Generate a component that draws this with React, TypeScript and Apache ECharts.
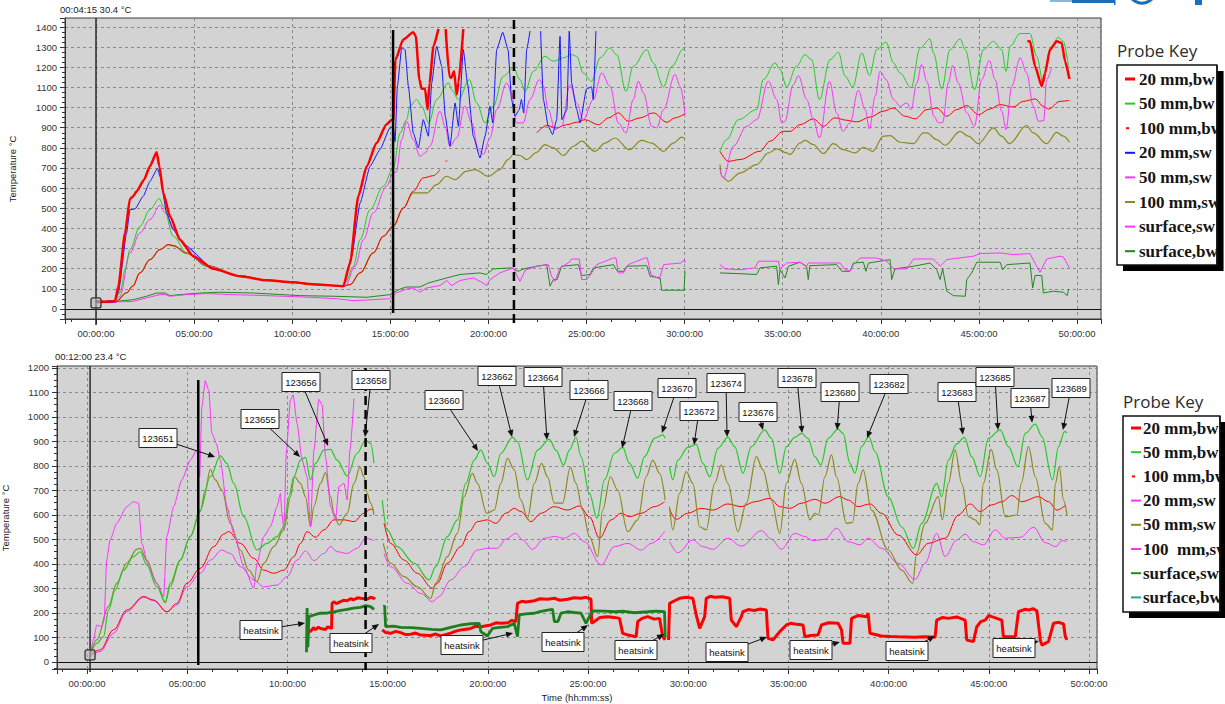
import React, { useEffect, useRef } from 'react';
import * as echarts from 'echarts';

type P = [number, number] | null;

// ---------------- TOP CHART (hours, °C) ----------------
const TOP_20BW: P[] = [[0,38],[0.5,36],[0.97,40],[1.14,113],[1.48,377],[1.73,546],[1.9,560],[2.07,584],[2.45,642],[2.75,709],[3.09,778],[3.23,709],[3.43,576],[3.77,460],[4.28,344],[4.96,262],[5.98,199],[7.34,162],[8.7,142],[10.0,132],[11.25,121],[12.6,113],[12.95,228],[13.37,560],[13.8,709],[14.3,824],[14.8,916],[15.07,940],[15.15,932],[15.26,1238],[15.66,1338],[16.17,1374],[16.3,1354],[16.48,1139],[16.6,1093],[16.77,1093],[16.9,990],[17.0,1122],[17.2,1305],[17.45,1390],null,[17.82,1390],[18.01,1156],[18.1,1147],[18.25,1180],[18.38,1065],[18.47,1122],[18.72,1390],null,[47.47,1329],[47.6,1329],[47.86,1205],[48.2,1106],[48.37,1172],[48.62,1288],[48.96,1329],[49.22,1321],[49.39,1230],[49.61,1142]];
const TOP_50BW: P[] = [[0,38],[0.9,38],[1.22,80],[1.5,200],[1.73,295],[2.24,410],[2.75,493],[3.23,548],[3.43,510],[3.94,361],[4.62,278],[5.64,212],[7.34,164],[8.7,143],[10.0,133],[11.25,122],[12.6,114],[12.7,129],[13.12,212],[13.46,344],[13.97,493],[14.64,609],[15.15,700],[15.5,874],[15.83,940],[16.0,1007],[16.34,1040],[16.6,1007],[16.96,924],[17.36,1040],[17.96,1122],[18.13,1089],[18.47,1040],[19.03,1139],[19.4,1023],[19.83,924],[20.25,1007],[20.76,1156],[21.27,1197],[21.61,1139],[21.87,1081],[22.29,1180],[22.88,1255],[23.31,1230],[23.82,1247],[24.24,1263],[24.5,1255],[24.83,1172],[25.26,1131],[25.69,1247],[26.19,1296],[26.54,1263],[27.01,1081],[27.38,1205],[28.07,1288],[28.4,1222],[28.92,1103],[29.34,1205],[29.94,1291],[30.02,1280],null,[31.8,783],[32.14,841],[32.74,940],[33.67,990],[34.01,1139],[34.61,1222],[34.86,1189],[35.2,1103],[35.7,1205],[36.14,1263],[36.47,1238],[36.87,1040],[37.41,1238],[37.84,1275],[38.18,1156],[38.57,1103],[39.03,1272],[39.42,1159],[39.79,1288],[40.27,1325],[40.64,1222],[40.98,1172],[41.54,1098],[42.0,1296],[42.51,1341],[42.68,1272],[43.1,1093],[43.53,1288],[44.04,1341],[44.3,1288],[44.77,1089],[45.23,1288],[45.74,1329],[46.16,1288],[46.38,1180],[46.59,1305],[47.1,1368],[47.6,1368],[47.94,1255],[48.28,1122],[48.62,1288],[49.05,1349],[49.3,1329],[49.56,1205]];
const TOP_100BW: P[] = [[0,38],[1.0,36],[1.56,80],[1.87,113],[2.24,179],[2.75,245],[3.26,295],[3.69,320],[3.94,315],[4.62,278],[5.64,215],[7.34,165],[8.7,143],[10.0,133],[11.25,122],[12.6,113],[12.95,121],[13.46,179],[14.13,278],[14.64,361],[15.15,411],[15.66,500],[16.17,584],[16.68,651],[17.2,662],[17.53,692],null,[17.8,733],[17.9,736],null,[22.46,874],[22.97,911],[23.48,899],[23.99,915],[24.5,927],[24.92,940],[25.61,915],[26.12,949],[26.62,974],[27.13,932],[27.73,949],[28.41,974],[29.09,927],[29.51,949],[30.02,970],null,[31.8,783],[32.23,733],[32.82,742],[33.84,783],[34.35,833],[35.03,882],[35.37,882],[35.88,915],[36.56,944],[37.07,907],[37.66,949],[38.26,937],[38.77,929],[39.45,953],[40.13,982],[40.64,998],[41.24,957],[41.75,944],[42.34,990],[42.85,998],[43.36,957],[43.87,990],[44.38,1010],[44.97,965],[45.56,993],[46.07,1015],[46.75,1003],[47.26,1031],[47.86,1043],[48.28,1007],[48.54,993],[49.13,1031],[49.61,1036]];
const TOP_20SW: P[] = [[0,32],[0.9,34],[1.14,80],[1.56,377],[1.73,493],[1.99,497],[2.41,560],[2.75,634],[3.13,697],[3.26,659],[3.6,477],[3.94,394],[4.5,320],[5.98,199],[7.34,162],[8.7,142],[10.0,132],[11.25,121],[12.6,113],[13.03,262],[13.46,526],[13.97,709],[14.47,791],[14.98,899],[15.15,907],[15.24,831],[15.36,1106],[15.58,1296],[15.75,1288],[15.92,1106],[16.17,874],[16.43,800],[16.68,940],[16.94,858],[17.11,1122],[17.36,1305],[17.62,1205],[17.8,957],[18.04,808],[18.3,1023],[18.47,907],[18.72,1288],[18.93,1122],[19.23,858],[19.57,750],[19.83,858],[20.08,1007],[20.22,924],[20.42,1288],[20.73,1374],[21.0,1288],[21.18,1040],[21.35,957],[21.57,990],[21.68,1040],[21.8,973],[21.95,1288],[22.12,1380],null,[22.66,1380],[22.8,1040],[23.05,907],[23.27,866],[23.48,940],[23.65,1354],[23.74,940],[24.0,990],[24.12,1380],[24.24,1122],[24.5,990],[24.67,924],[25.0,1093],[25.26,1103],[25.34,1040],[25.48,1380]];
const TOP_50SW: P[] = [[0,30],[0.9,32],[1.22,63],[1.73,278],[2.24,377],[2.75,444],[3.26,515],[3.52,477],[3.94,394],[4.62,303],[5.64,214],[7.34,163],[8.7,142],[10.0,132],[11.25,121],[12.6,113],[12.7,113],[13.2,212],[13.63,344],[14.13,477],[14.81,609],[15.15,675],[15.3,680],[15.58,841],[15.83,932],[16.17,841],[16.51,758],[16.77,775],[17.02,808],[17.53,982],[17.79,907],[18.04,808],[18.38,849],[18.8,1007],[19.15,924],[19.49,791],[19.74,767],[20.08,849],[20.42,990],[20.93,1122],[21.18,1073],[21.43,924],[21.77,924],[22.12,1040],[22.59,1139],[22.8,1106],[23.05,990],[23.39,891],[23.73,907],[24.16,1114],[24.5,1023],[24.83,940],[25.35,1040],[25.77,1172],[26.2,1106],[26.62,924],[27.01,874],[27.38,1040],[27.64,1131],[27.9,1073],[28.32,907],[28.58,899],[28.92,990],[29.51,1164],[29.77,1106],[30.02,965],null,[31.8,692],[31.97,651],[32.48,808],[33.16,907],[33.67,940],[34.27,1131],[34.69,1040],[34.95,924],[35.1,930],[35.54,1114],[35.8,1159],[36.22,1040],[36.56,940],[36.87,849],[37.38,1131],[37.75,974],[38.06,882],[38.43,924],[38.85,1086],[39.2,990],[39.42,894],[39.71,1056],[39.96,1180],[40.27,1139],[40.64,1040],[40.98,1007],[41.32,1023],[41.54,990],[41.83,1122],[42.08,1214],[42.34,1131],[42.71,957],[42.93,924],[43.15,926],[43.44,1122],[43.66,1209],[43.95,1122],[44.38,974],[44.77,907],[45.14,1139],[45.53,1233],[45.82,1139],[46.16,982],[46.38,891],[46.67,1106],[47.1,1247],[47.43,1172],[47.77,1007],[48.03,932],[48.3,935],[48.45,1139],[48.7,1197]];
const TOP_100SW: P[] = [[0,36],[1.0,34],[1.56,80],[1.87,113],[2.24,179],[2.75,245],[3.26,295],[3.69,318],[3.94,313],[4.62,276],[5.64,214],[7.34,164],[8.7,143],[10.0,133],[11.25,122],[12.6,113],[12.95,121],[13.46,179],[14.13,278],[14.64,361],[15.15,411],[15.66,502],[16.17,576],[16.85,576],[17.36,617],[17.87,659],[18.3,642],[18.89,684],[19.32,692],[20.0,659],[20.59,692],[21.0,742],[21.27,767],[21.61,762],[21.95,742],[22.46,778],[22.88,816],[23.31,800],[23.82,762],[24.33,808],[24.75,833],[25.43,783],[25.94,824],[26.45,849],[27.18,791],[27.81,837],[28.32,824],[28.92,783],[29.43,824],[29.85,853],[30.02,845],null,[31.8,717],[31.89,659],[32.23,634],[32.82,675],[33.67,717],[34.27,775],[34.69,795],[35.2,775],[35.37,767],[35.88,824],[36.14,837],[36.56,816],[37.07,772],[37.58,821],[38.09,791],[38.68,775],[39.11,803],[39.58,783],[40.13,858],[40.47,861],[40.98,828],[41.66,821],[42.17,874],[42.34,874],[42.85,841],[43.27,813],[44.04,882],[44.46,858],[44.97,821],[45.74,899],[46.16,858],[46.55,821],[47.43,911],[47.77,874],[48.45,821],[48.96,877],[49.3,858],[49.61,828]];
const TOP_SURF_SW: P[] = [[0,30],[1.9,38],[2.58,55],[3.26,71],[3.52,71],[3.77,63],[4.62,71],[5.64,76],[7.0,71],[8.7,66],[10.4,60],[12.27,51],[13.12,41],[14.13,46],[14.98,51],[15.32,80],[15.83,99],[16.17,104],[16.51,83],[16.85,104],[17.53,116],[17.87,141],[18.13,116],[18.55,141],[19.23,154],[19.66,132],[19.91,116],[20.08,146],[20.59,179],[21.27,204],[21.43,171],[21.61,137],[21.87,192],[22.46,212],[23.05,220],[23.22,162],[23.39,137],[23.65,204],[24.07,228],[24.24,248],[24.63,248],[24.75,146],[25.01,146],[25.26,179],[25.52,220],[26.37,253],[26.5,253],[26.62,179],[26.88,179],[27.13,220],[27.98,253],[28.1,253],[28.28,171],[28.71,149],[28.93,220],[29.8,228],[30.0,245],[30.02,228],null,[31.8,220],[32.06,199],[32.82,195],[33.58,204],[33.76,237],[34.78,237],[34.86,199],[35.2,228],[35.88,232],[36.22,212],[36.3,228],[37.92,228],[38.18,195],[38.43,187],[38.6,220],[38.94,253],[39.79,253],[40.3,237],[40.64,199],[41.32,199],[41.66,248],[42.68,248],[43.02,212],[43.36,245],[44.72,262],[45.06,275],[46.08,278],[46.75,270],[47.6,275],[47.94,212],[48.11,182],[48.45,248],[49.13,262],[49.3,258],[49.61,204]];
const TOP_SURF_BW: P[] = [[0,38],[1.0,38],[1.9,46],[2.58,63],[3.09,79],[3.52,79],[3.77,66],[4.28,71],[5.3,79],[6.32,83],[8.02,79],[10.4,66],[12.1,63],[13.8,58],[14.98,71],[15.5,99],[15.83,109],[16.51,109],[16.94,129],[17.87,154],[18.55,171],[19.57,179],[19.9,171],[20.25,199],[21.18,204],[21.52,187],[21.8,199],[22.46,212],[22.97,220],[23.14,113],[23.31,146],[23.5,146],[23.73,212],[24.58,220],[24.75,166],[25.18,171],[25.35,204],[26.37,220],[26.57,187],[26.9,187],[27.05,212],[28.07,215],[28.24,162],[28.75,154],[28.83,93],[29.97,93],[30.02,187],null,[31.8,179],[32.82,175],[33.67,171],[33.84,204],[34.69,212],[34.78,121],[34.86,195],[35.12,154],[35.29,212],[35.88,232],[36.22,209],[36.3,146],[36.38,215],[37.75,220],[38.01,187],[38.43,187],[38.6,228],[39.11,232],[39.24,187],[39.37,228],[40.47,245],[40.55,146],[40.72,199],[41.66,212],[42.51,228],[42.85,195],[43.02,146],[43.15,200],[43.36,88],[43.7,66],[44.3,63],[44.38,146],[44.63,179],[44.89,232],[46.08,232],[46.21,195],[46.42,220],[47.6,228],[47.74,104],[47.86,166],[48.2,166],[48.28,79],[48.79,88],[49.3,83],[49.5,66],[49.57,99]];

// ---------------- BOTTOM CHART ----------------
const B_50BW: P[] = [[0.15,22],[0.48,76],[0.82,103],[1.07,212],[1.4,294],[1.82,375],[2.32,430],[2.65,450],[2.98,396],[3.48,307],[3.9,246],[4.15,321],[4.65,416],[5.15,512],[5.65,620],[6.15,756],[6.65,841],[6.98,811],[7.32,729],[7.82,593],[8.48,457],[8.98,484],[9.48,512],[9.82,552],[10.07,675],[10.32,756],[10.65,824],[10.9,835],[11.15,743],[11.4,811],[11.82,865],[12.15,868],[12.48,824],[12.98,759],[13.48,852],[13.9,906],[14.15,892],[14.32,811],null,[14.73,661],[14.98,539],[15.48,471],[16.32,403],[17.07,335],[17.4,389],[17.98,512],[18.48,580],[18.9,729],[19.32,824],[19.65,865],[19.98,811],[20.32,756],[20.65,852],[21.23,917],[21.48,899],[21.98,743],[22.48,865],[23.07,909],[23.4,865],[23.78,804],[24.07,865],[24.4,917],[24.65,838],[25.07,688],[25.45,586],[25.82,743],[26.32,852],[26.73,876],[27.07,811],[27.48,750],[27.82,838],[28.32,913],[28.73,927],[28.85,913],null,[29.07,797],[29.23,743],[29.48,824],[29.98,876],[30.4,888],[30.73,811],[31.07,756],[31.48,872],[31.98,917],[32.32,879],[32.73,770],[33.15,879],[33.82,947],[34.15,913],[34.57,770],[34.9,879],[35.32,917],[35.65,933],[35.98,913],[36.32,838],[36.62,804],[36.98,913],[37.48,950],[37.73,933],[38.07,811],[38.32,770],[38.65,879],[39.02,920],[39.32,858],[39.98,675],[40.65,552],[41.23,464],[41.65,566],[42.4,729],[42.65,675],[42.98,824],[43.4,890],[43.78,917],[44.15,838],[44.57,756],[44.98,913],[45.57,947],[45.98,879],[46.45,797],[46.82,933],[47.32,971],[47.65,920],[48.18,743],[48.48,879],[48.78,940],[48.9,935]];
const B_50SW: P[] = [[0.15,22],[0.48,90],[1.07,226],[1.48,321],[1.98,403],[2.48,460],[2.65,464],[2.98,416],[3.48,321],[3.9,242],[4.15,307],[4.65,416],[5.15,512],[5.65,614],[5.9,702],[6.15,786],[6.4,743],[6.73,702],[7.15,566],[7.65,457],[8.07,375],[8.48,328],[8.82,403],[9.32,471],[9.82,539],[10.15,675],[10.35,756],[10.65,729],[10.9,675],[11.15,552],[11.32,634],[11.65,729],[11.9,773],[12.15,675],[12.32,607],[12.57,559],[12.98,607],[13.32,729],[13.62,795],[13.82,756],[13.98,688],[14.15,648],[14.32,600],null,[14.78,484],[15.15,403],[15.82,348],[16.48,307],[17.15,260],[17.4,321],[17.98,430],[18.48,525],[18.82,675],[19.23,770],[19.48,729],[19.95,607],[20.32,620],[20.65,729],[20.98,831],[21.32,784],[21.65,661],[21.98,586],[22.32,729],[22.68,811],[22.98,756],[23.32,648],[23.73,648],[24.12,795],[24.4,729],[24.73,620],[25.07,512],[25.48,430],[25.73,620],[26.12,756],[26.48,702],[26.98,532],[27.48,580],[27.9,756],[28.23,824],[28.57,770],[28.85,661],null,[29.07,634],[29.23,539],[29.57,688],[29.9,777],[30.23,729],[30.57,552],[30.9,539],[31.32,729],[31.65,804],[31.98,729],[32.48,532],[32.9,648],[33.4,838],[33.73,784],[34.15,661],[34.57,525],[34.9,729],[35.32,827],[35.65,729],[36.07,580],[36.32,607],[36.5,600],[36.82,756],[37.15,845],[37.4,756],[37.9,566],[38.2,570],[38.48,729],[38.73,784],[39.15,620],[39.98,457],[40.65,375],[41.2,321],[41.4,444],[41.82,566],[42.48,675],[42.68,580],[42.98,729],[43.32,865],[43.65,729],[43.98,593],[44.32,580],[44.55,560],[44.73,729],[45.12,868],[45.4,784],[45.82,593],[46.4,600],[46.62,729],[46.98,879],[47.32,756],[47.82,566],[48.18,539],[48.32,729],[48.52,797],[48.73,661],[48.9,600]];
const B_100BW: P[] = [[0.15,29],[0.65,49],[1.32,131],[1.98,212],[2.82,267],[3.32,253],[3.98,205],[4.48,239],[4.98,321],[5.65,382],[6.32,471],[6.82,522],[7.07,532],[7.65,484],[8.32,423],[8.82,375],[9.32,362],[9.82,375],[10.32,430],[10.65,484],[10.98,532],[11.4,509],[11.82,539],[12.32,580],[12.82,580],[13.32,573],[13.82,607],[14.15,624],[14.32,620],null,[14.82,566],[15.15,484],[15.82,416],[16.48,362],[17.23,301],[17.48,321],[17.98,403],[18.65,471],[19.07,532],[19.48,573],[19.98,580],[20.4,566],[20.9,607],[21.32,627],[21.65,614],[22.15,573],[22.65,607],[23.32,634],[23.98,620],[24.57,637],[25.07,593],[25.57,505],[26.15,580],[26.65,607],[27.07,593],[27.65,607],[28.32,634],[28.82,654],null,[29.07,623],[29.4,582],[29.98,607],[30.65,627],[31.23,620],[31.98,645],[32.65,634],[33.32,654],[34.07,668],[34.57,634],[35.07,627],[35.65,648],[36.32,664],[36.82,648],[37.57,675],[37.98,661],[38.48,634],[39.07,645],[39.65,607],[40.48,518],[41.4,437],[41.98,484],[42.82,505],[43.48,600],[44.07,645],[44.57,614],[45.15,641],[45.65,654],[46.15,679],[46.65,654],[47.48,675],[47.98,654],[48.4,620],[48.85,641]];
const B_100SW: P[] = [[0.15,24],[0.65,42],[1.32,117],[1.98,205],[2.82,264],[3.32,250],[3.98,205],[4.48,232],[4.98,307],[5.65,362],[6.15,416],[6.73,457],[7.15,443],[7.65,389],[8.32,335],[8.82,307],[9.48,314],[9.98,348],[10.48,416],[10.9,453],[11.32,414],[11.82,443],[12.15,471],[12.48,450],[12.98,443],[13.48,464],[13.9,505],[14.32,495],null,[14.82,443],[15.15,389],[15.98,321],[16.65,280],[17.23,246],[17.57,267],[18.15,335],[18.82,389],[19.48,457],[19.98,464],[20.48,464],[20.9,501],[21.4,525],[21.73,498],[22.23,460],[22.82,505],[23.32,512],[23.82,505],[24.32,525],[24.82,491],[25.65,396],[26.32,471],[26.98,484],[27.65,457],[28.15,484],[28.82,532],null,[29.07,491],[29.48,446],[30.23,498],[30.73,471],[31.23,460],[31.98,505],[32.65,473],[33.65,536],[34.15,501],[34.65,460],[35.32,525],[35.82,512],[36.23,495],[36.82,501],[37.4,546],[37.98,491],[38.57,478],[38.98,505],[39.65,464],[40.48,403],[41.32,337],[41.82,403],[42.4,525],[42.82,430],[43.4,498],[43.82,522],[44.23,491],[44.73,478],[45.32,539],[45.82,505],[46.57,509],[47.23,550],[47.82,487],[48.35,471],[48.65,495],[48.9,493]];
const B_20SW: P[] = [[0.15,22],[0.32,90],[0.48,151],[0.73,144],[0.85,170],[0.98,416],[1.15,498],[1.48,566],[1.98,634],[2.32,654],[2.57,648],[2.73,484],[3.07,389],[3.48,321],[3.82,267],[3.98,512],[4.32,634],[4.73,743],[5.15,824],[5.48,865],[5.62,756],[5.73,1042],[5.9,1148],[6.07,1110],[6.23,933],[6.45,892],[6.65,824],[6.98,634],[7.32,525],[7.82,389],[8.32,301],[8.48,403],[8.82,512],[9.15,552],[9.48,634],[9.65,688],[9.72,610],[9.82,539],[9.95,865],[10.15,1069],[10.28,1090],[10.48,974],[10.73,824],[10.98,756],[11.15,552],[11.32,865],[11.57,1072],[11.73,1049],[11.9,838],[12.15,634],[12.4,580],[12.57,716],[12.82,729],[12.98,661],[13.12,865],[13.32,1076]];
const B_HS_RED: P[] = [[10.98,90],[11.05,130],[11.15,124],[11.3,140],[11.4,132],[11.55,142],[11.65,137],[11.9,133],[12.0,143],[12.15,140],[12.2,135],[12.23,239],[12.32,246],[12.45,238],[12.6,244],[12.8,252],[12.98,250],[13.15,258],[13.3,254],[13.5,262],[13.65,260],[14.0,257],[14.15,264],[14.32,260],[14.35,255],null,[14.73,131],[14.9,120],[15.15,117],[15.4,125],[15.65,120],[15.9,112],[16.15,113],[16.4,118],[16.65,110],[17.15,108],[17.4,114],[17.65,106],[18.15,118],[18.4,126],[18.65,131],[19.15,137],[19.4,146],[19.65,144],[20.15,151],[20.4,160],[20.65,158],[21.0,160],[21.2,170],[21.4,165],[21.48,239],[21.7,248],[21.9,245],[22.32,250],[22.6,258],[22.98,256],[23.32,260],[23.6,252],[23.98,256],[24.3,262],[24.65,260],[24.9,264],[25.15,256],[25.18,158],[25.32,165],[25.6,182],[25.98,185],[26.3,182],[26.57,178],[26.73,117],[27.0,110],[27.4,103],[27.48,165],[27.7,178],[27.98,185],[28.3,175],[28.57,178],[28.73,103],[28.85,90],null,[29.02,90],[29.07,239],[29.32,250],[29.57,260],[29.9,264],[30.23,260],[30.4,192],[30.57,137],[30.82,185],[30.9,260],[31.1,268],[31.32,264],[31.7,266],[32.07,260],[32.15,171],[32.4,144],[32.65,185],[32.73,205],[33.0,214],[33.3,210],[33.6,216],[33.9,212],[33.98,97],[34.23,90],[34.57,124],[34.9,151],[35.1,158],[35.32,155],[35.73,151],[35.82,103],[36.1,108],[36.48,110],[36.65,151],[37.0,160],[37.48,158],[37.65,131],[37.73,76],[38.07,76],[38.15,178],[38.5,190],[38.9,185],[38.98,199],[39.07,117],[39.65,106],[40.1,104],[40.48,103],[41.32,101],[41.8,103],[42.32,101],[42.4,171],[42.7,182],[42.98,178],[43.4,184],[43.82,171],[43.9,90],[44.23,83],[44.4,144],[44.6,165],[44.82,171],[45.0,190],[45.15,185],[45.4,178],[45.65,171],[45.73,103],[46.32,103],[46.48,205],[46.8,215],[47.0,212],[47.2,218],[47.4,209],[47.57,90],[47.65,69],[47.98,83],[48.23,158],[48.5,162],[48.73,155],[48.82,103],[48.9,90]];
const B_HS_GREEN: P[] = [[10.95,40],[10.98,220],[11.02,60],[11.07,185],[11.4,194],[11.65,199],[12.0,200],[12.32,205],[12.6,210],[12.98,215],[13.3,220],[13.65,223],[13.9,230],[14.15,226],[14.32,215],null,[14.8,226],[14.85,230],[14.9,144],[15.3,146],[15.65,141],[16.2,140],[16.65,137],[17.2,133],[17.65,131],[18.2,142],[18.65,151],[19.1,156],[19.57,158],[19.65,124],[19.98,106],[20.23,137],[20.6,141],[20.98,144],[21.32,158],[21.48,103],[21.57,192],[21.9,196],[22.32,199],[22.6,206],[22.98,212],[23.23,215],[23.32,165],[23.5,165],[23.65,199],[23.98,205],[24.3,202],[24.65,199],[24.9,158],[25.07,185],[25.23,209],[25.8,208],[26.32,205],[26.8,207],[27.32,201],[27.98,205],[28.4,208],[28.82,205],[28.85,100]];

// ---------------- legends / annotations ----------------
const TOP_LEGEND = ['20 mm,bw', '50 mm,bw', '100 mm,bw', '20 mm,sw', '50 mm,sw', '100 mm,sw', 'surface,sw', 'surface,bw'];
const BOT_LEGEND = ['20 mm,bw', '50 mm,bw', '100 mm,bw', '20 mm,sw', '50 mm,sw', '100  mm,sw', 'surface,sw', 'surface,bw'];
const ANNOT_LABELS = ['123651','123655','123656','123658','123660','123662','123664','123666','123668','123670','123672','123674','123676','123678','123680','123682','123683','123685','123687','123689','heatsink','heatsink','heatsink','heatsink','heatsink','heatsink','heatsink','heatsink','heatsink'];
const ANNOT_T = [6.39,10.63,12.03,13.87,19.51,21.21,22.95,24.3,26.7,28.69,30.29,31.94,33.73,35.68,37.43,38.92,43.71,45.46,47.16,48.7,10.88,14.57,21.26,25.0,28.79,33.93,37.57,42.31,47.5];
const ANNOT_V = [837,837,882,918,861,918,906,918,873,935,886,918,947,935,947,914,927,947,976,947,159,155,118,151,114,102,82,106,86];
// layout (box centres, pixels)
const ANNOT_BOX = [[158,438],[260,419],[301,382],[371,380],[444,400],[497,376],[543,377],[589,390],[633,401],[677,388],[699,411],[726,383],[758,412],[797,378],[840,392],[889,384],[957,392],[995,377],[1030,398],[1071,388],[261,630],[351,643],[462,645],[563,642],[636,650],[727,652],[811,650],[907,651],[1014,648]];

const RED = '#ff0000', GREEN = '#22cc22', BLUE = '#1515ff', MAG = '#ff33ff', OLIVE = '#8c8a1e', DKGREEN = '#1f8a1f', TEAL = '#2a9d9d';
const TOP_COLORS = [RED, GREEN, RED, BLUE, MAG, OLIVE, MAG, DKGREEN];
const BOT_COLORS = [RED, GREEN, RED, MAG, OLIVE, MAG, DKGREEN, TEAL];

const FONT = 'Liberation Sans';
const fmtH = (v: number) => { const h = Math.round(v); return (h < 10 ? '0' : '') + h + ':00:00'; };
const fmtV = (v: number) => String(Math.round(v));
const toData = (a: P[]) => a.map((p) => (p ? p : ['-', '-']));

function line(name: string, data: P[], color: string, width: number, g: number, smooth: number, extra: any = {}) {
  return {
    type: 'line', name, data: toData(data), xAxisIndex: g, yAxisIndex: g,
    showSymbol: false, symbol: 'none', smooth, smoothMonotone: 'x', connectNulls: false,
    lineStyle: { color, width }, itemStyle: { color }, z: 3, ...extra,
  };
}

const zeroLine = { markLine: { silent: true, symbol: ['none', 'none'], label: { show: false }, lineStyle: { color: '#111', width: 1, type: 'solid' }, data: [{ yAxis: 0 }] } };

function xAxis(g: number, min: number, max: number) {
  return {
    type: 'value', gridIndex: g, min, max, splitNumber: 10,
    axisLine: { show: true, onZero: false, lineStyle: { color: '#333', width: 1 } },
    axisTick: { show: true, length: 5, lineStyle: { color: '#333' } },
    minorTick: { show: true, splitNumber: 4, length: 3, lineStyle: { color: '#333' } },
    axisLabel: { formatter: fmtH, showMinLabel: false, showMaxLabel: false, color: '#333', fontSize: 9.5, fontFamily: FONT, margin: 9 },
    splitLine: { show: true, lineStyle: { color: '#8a8a8a', type: [3, 3], width: 1 } },
  };
}
function yAxis(g: number, min: number, max: number, split: number) {
  return {
    type: 'value', gridIndex: g, min, max, splitNumber: split,
    axisLine: { show: true, onZero: false, lineStyle: { color: '#333', width: 1 } },
    axisTick: { show: true, length: 5, lineStyle: { color: '#333' } },
    minorTick: { show: true, splitNumber: 4, length: 3, lineStyle: { color: '#333' } },
    axisLabel: { formatter: fmtV, showMinLabel: false, showMaxLabel: false, color: '#333', fontSize: 9.5, fontFamily: FONT, margin: 8 },
    splitLine: { show: true, lineStyle: { color: '#8a8a8a', type: [3, 3], width: 1 } },
  };
}

function buildOption(): any {
  return {
    animation: false,
    backgroundColor: '#ffffff',
    textStyle: { fontFamily: FONT },
    grid: [
      { left: 65, top: 18, width: 1036, height: 301, show: true, backgroundColor: '#d3d3d3', borderColor: '#3a3a3a', borderWidth: 1, containLabel: false, outerBoundsMode: 'none' },
      { left: 57, top: 366, width: 1040, height: 303, show: true, backgroundColor: '#d3d3d3', borderColor: '#3a3a3a', borderWidth: 1, containLabel: false, outerBoundsMode: 'none' },
    ],
    xAxis: [xAxis(0, -1.58, 51.22), xAxis(1, -1.5, 50.4)],
    yAxis: [yAxis(0, -50, 1445, 15), yAxis(1, -28.6, 1208, 12)],
    series: [
      line('surface,bw', TOP_SURF_BW, DKGREEN, 1, 0, 0, zeroLine),
      line('surface,sw', TOP_SURF_SW, MAG, 1, 0, 0),
      line('100 mm,sw', TOP_100SW, OLIVE, 1.2, 0, 0.35),
      line('100 mm,bw', TOP_100BW, RED, 1, 0, 0.35),
      line('50 mm,sw', TOP_50SW, MAG, 1, 0, 0.35),
      line('50 mm,bw', TOP_50BW, GREEN, 1, 0, 0.35),
      line('20 mm,sw', TOP_20SW, BLUE, 1, 0, 0.15),
      line('20 mm,bw', TOP_20BW, RED, 2.5, 0, 0.2),
      line('b 100 mm,sw', B_100SW, MAG, 1, 1, 0.35, zeroLine),
      line('b 100 mm,bw', B_100BW, RED, 1, 1, 0.35),
      line('b 50 mm,sw', B_50SW, OLIVE, 1.2, 1, 0.35),
      line('b 20 mm,sw', B_20SW, MAG, 1, 1, 0.2),
      line('b 50 mm,bw', B_50BW, GREEN, 1.2, 1, 0.35),
      line('b 20 mm,bw', B_HS_RED, RED, 3, 1, 0),
      line('b surface,sw', B_HS_GREEN, '#1e7d1e', 2.8, 1, 0),
    ],
  };
}

function txt(x: number, y: number, text: string, o: any = {}) {
  const align = o.align || 'left';
  const va = o.va || 'middle';
  return {
    type: 'text', x, y, rotation: o.rotation || 0, z: 200,
    style: {
      text, fill: o.color || '#222', fontSize: o.size || 10, fontFamily: o.family || FONT, fontWeight: o.weight || 'normal',
      align, verticalAlign: va, textAlign: align, textVerticalAlign: va,
    },
  };
}

function buildGraphics(chart: any) {
  const px = (g: number, t: number, v: number) => chart.convertToPixel({ gridIndex: g }, [t, v]) as number[];
  const els: any[] = [];
  const L = (x1: number, y1: number, x2: number, y2: number, w: number, color = '#000', dash?: number[]) =>
    els.push({ type: 'line', z: 150, shape: { x1, y1, x2, y2 }, style: { stroke: color, lineWidth: w, lineDash: dash } });

  // header texts
  els.push(txt(60, 9, '00:04:15 30.4 °C', { size: 9.5 }));
  els.push(txt(55, 356, '00:12:00 23.4 °C', { size: 9.5 }));
  els.push(txt(12, 169, 'Temperature °C', { align: 'center', rotation: Math.PI / 2, size: 9.5 }));
  els.push(txt(5, 518, 'Temperature °C', { align: 'center', rotation: Math.PI / 2, size: 9.5 }));
  els.push(txt(577, 697, 'Time (hh:mm:ss)', { align: 'center', size: 9.5 }));

  // top vertical markers
  const c0 = px(0, 0, 0);
  L(c0[0], 18, c0[0], 325, 1.5, '#2a2a2a');
  const s1a = px(0, 15.14, 1385), s1b = px(0, 15.14, -20);
  L(s1a[0], s1a[1], s1b[0], s1b[1], 2.5);
  const d1 = px(0, 21.3, 0);
  L(d1[0], 20, d1[0], 325, 2.5, '#000', [9, 5]);
  // bottom vertical markers
  const c1 = px(1, 0.15, 0);
  L(c1[0], 366, c1[0], 672, 1.5, '#2a2a2a');
  const s2a = px(1, 5.55, 1151), s2b = px(1, 5.55, -12);
  L(s2a[0], s2a[1], s2b[0], s2b[1], 2.5);
  const d2 = px(1, 13.9, 0);
  L(d2[0], 368, d2[0], 670, 2.5, '#000', [9, 5]);

  // cursor squares
  const q0 = px(0, 0, 30), q1 = px(1, 0.15, 29);
  [q0, q1].forEach((q) => els.push({ type: 'rect', z: 160, shape: { x: q[0] - 5, y: q[1] - 5, width: 10, height: 10, r: 2 }, style: { fill: 'rgba(190,190,190,0.6)', stroke: '#333', lineWidth: 1.3 } }));

  // annotations
  ANNOT_LABELS.forEach((lab, i) => {
    const [cx, cy] = ANNOT_BOX[i];
    const w = lab === 'heatsink' ? 42 : 38, h = 19;
    const [tx, ty] = px(1, ANNOT_T[i], ANNOT_V[i]);
    const dx = tx - cx, dy = ty - cy;
    const sc = Math.min((w / 2) / Math.max(Math.abs(dx), 1e-6), (h / 2) / Math.max(Math.abs(dy), 1e-6));
    const sx = cx + dx * sc, sy = cy + dy * sc;
    const len = Math.hypot(tx - sx, ty - sy) || 1;
    const ux = (tx - sx) / len, uy = (ty - sy) / len;
    L(sx, sy, tx - ux * 4, ty - uy * 4, 1, '#111');
    els.push({ type: 'polygon', z: 151, shape: { points: [[tx, ty], [tx - ux * 7 - uy * 3, ty - uy * 7 + ux * 3], [tx - ux * 7 + uy * 3, ty - uy * 7 - ux * 3]] }, style: { fill: '#111' } });
    els.push({ type: 'rect', z: 170, shape: { x: cx - w / 2, y: cy - h / 2, width: w, height: h }, style: { fill: '#fff', stroke: '#222', lineWidth: 1 } });
    els.push({ ...txt(cx, cy + 0.5, lab, { align: 'center', size: 9.5, color: '#111' }), z: 171 });
  });

  // legends
  const legend = (items: string[], colors: string[], x: number, y: number, w: number, h: number, titleY: number, rowY0: number, rowH: number, textX: number) => {
    els.push(txt(x, titleY, 'Probe Key', { size: 17, family: 'Open Sans', color: '#2b2b2b' }));
    els.push({ type: 'rect', z: 180, shape: { x: x + 6, y: y + 6, width: w, height: h }, style: { fill: '#000' } });
    els.push({ type: 'rect', z: 181, shape: { x, y, width: w, height: h }, style: { fill: '#fff', stroke: '#111', lineWidth: 1.5 } });
    items.forEach((it, i) => {
      const yy = rowY0 + i * rowH;
      const c = colors[i];
      if (i === 0) els.push({ type: 'line', z: 182, shape: { x1: x + 8, y1: yy, x2: x + 18, y2: yy }, style: { stroke: c, lineWidth: 3 } });
      else if (i === 2) els.push({ type: 'line', z: 182, shape: { x1: x + 9, y1: yy, x2: x + 12, y2: yy }, style: { stroke: c, lineWidth: 2 } });
      else els.push({ type: 'line', z: 182, shape: { x1: x + 8, y1: yy, x2: x + 18, y2: yy }, style: { stroke: c, lineWidth: 2 } });
      els.push({ ...txt(textX, yy, it, { size: 17, family: 'Liberation Serif', weight: 'bold', color: '#151515' }), z: 183 });
    });
    // clip overflow: right shadow strip drawn over text
    els.push({ type: 'rect', z: 190, shape: { x: x + w + 0.75, y: y - 1, width: 20, height: 7 }, style: { fill: '#fff' } });
    els.push({ type: 'rect', z: 190, shape: { x: x + w + 0.75, y: y + 6, width: 6, height: h }, style: { fill: '#000' } });
    els.push({ type: 'rect', z: 190, shape: { x: x + w + 6.75, y: y - 1, width: 20, height: h + 8 }, style: { fill: '#fff' } });
    els.push({ type: 'line', z: 191, shape: { x1: x + w, y1: y, x2: x + w, y2: y + h }, style: { stroke: '#111', lineWidth: 1.5 } });
  };
  legend(TOP_LEGEND, TOP_COLORS, 1117, 65, 100, 200, 50, 79, 24.6, 1139);
  legend(BOT_LEGEND, BOT_COLORS, 1123, 416, 97, 196, 401, 428, 24.2, 1143);

  // logo fragment top-right
  els.push({ type: 'rect', z: 100, shape: { x: 1050, y: 0, width: 22, height: 2 }, style: { fill: '#7fbbe6' } });
  els.push({ type: 'rect', z: 100, shape: { x: 1072, y: 0, width: 42, height: 3 }, style: { fill: '#1b6fb8' } });
  els.push({ type: 'rect', z: 100, shape: { x: 1114, y: 0, width: 1.5, height: 5 }, style: { fill: '#1b6fb8' } });
  els.push({ type: 'circle', z: 100, shape: { cx: 1142, cy: -11, r: 14 }, style: { fill: 'none', stroke: '#1b6fb8', lineWidth: 3 } });
  els.push({ type: 'rect', z: 100, shape: { x: 1195, y: 0, width: 7, height: 5 }, style: { fill: '#1b6fb8' } });
  return els;
}

export default function App() {
  const ref = useRef<HTMLDivElement>(null);
  useEffect(() => {
    const el = ref.current;
    if (!el) return;
    const chart = echarts.init(el, null, { renderer: 'svg' });
    chart.setOption(buildOption());
    chart.setOption({ graphic: { elements: buildGraphics(chart) } });
    return () => chart.dispose();
  }, []);
  return <div ref={ref} style={{ position: 'absolute', left: 0, top: 0, width: 1225, height: 704, background: '#fff' }} />;
}
